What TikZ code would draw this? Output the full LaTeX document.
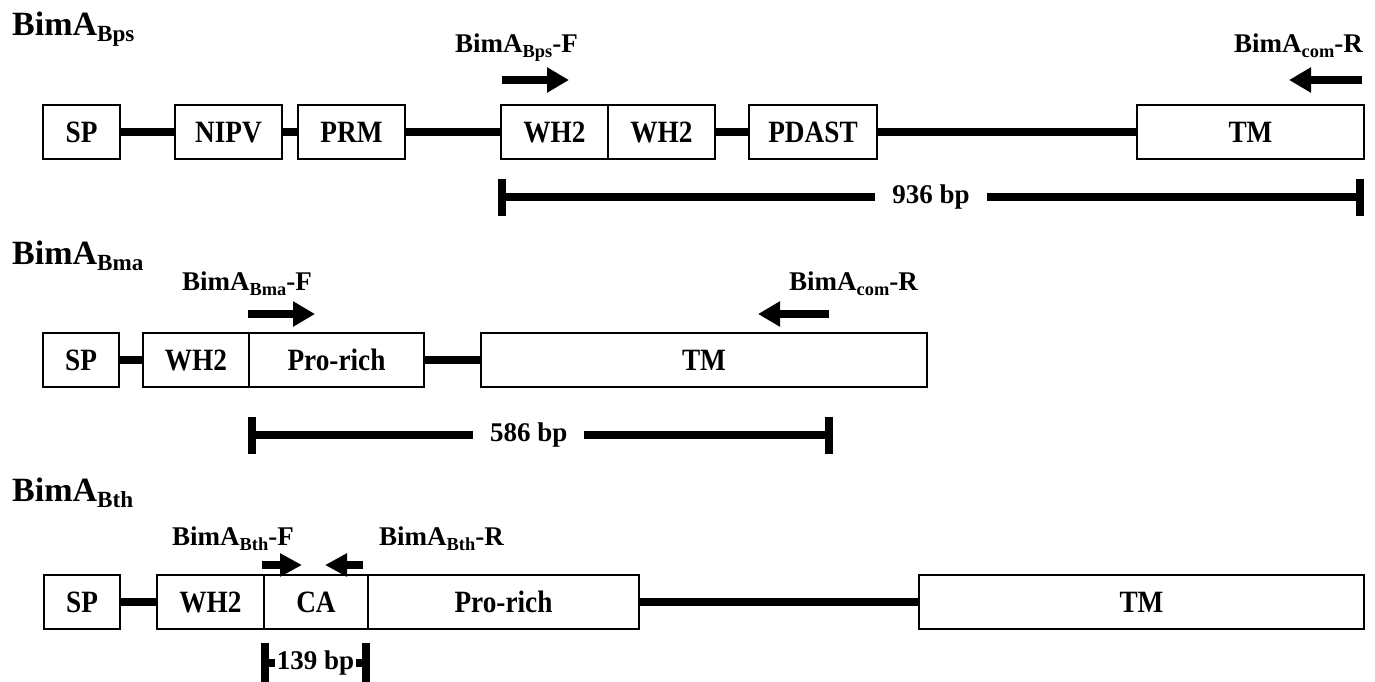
\documentclass[tikz,border=0pt]{standalone}
\usepackage{fontspec}
\setmainfont{Liberation Serif}
\newfontfamily\narrowfont{Liberation Serif}[FakeStretch=0.88]
\usepackage{graphicx}
\usepackage{tikz}
\usetikzlibrary{arrows.meta}
\newcommand{\sbs}[1]{\raisebox{-0.2em}{\scalebox{0.68}{#1}}}
\tikzset{
  dom/.style={draw, line width=2pt, anchor=west, minimum height=54, inner sep=0pt,
    text height=21pt, text depth=0pt, font=\narrowfont\fontsize{31}{33}\selectfont\bfseries},
  linker/.style={line width=8pt},
  primer/.style={line width=8pt, -{Triangle[width=24pt,length=22pt]}},
  plab/.style={inner sep=0pt, font=\fontsize{27}{30}\selectfont\bfseries},
  rowtitle/.style={inner sep=0pt, anchor=base west, font=\fontsize{34}{36}\selectfont\bfseries},
  sbar/.style={line width=8pt, {Bar[width=37pt]}-{Bar[width=37pt]}},
  blab/.style={fill=white, inner xsep=17pt, inner ysep=0pt, font=\fontsize{27}{30}\selectfont\bfseries},
}

\begin{document}
\begin{tikzpicture}[x=1pt,y=-1pt]
        \useasboundingbox (0,0) rectangle (1375,681);

        % BimA Bps
        \node[rowtitle] (t1) at (12,35) {BimA\sbs{Bps}};
        \node[dom, minimum width=77] (sp1) at (42,132) {SP};
        \node[dom, minimum width=107] (nipv1) at (174,132) {NIPV};
        \node[dom, minimum width=107] (prm1) at (297,132) {PRM};
        \node[dom, minimum width=107] (wha1) at (500,132) {WH2};
        \node[dom, minimum width=107] (whb1) at (607,132) {WH2};
        \node[dom, minimum width=128] (pdast1) at (748,132) {PDAST};
        \node[dom, minimum width=227] (tm1) at (1136,132) {TM};

        \draw[linker] (sp1.east) -- (nipv1.west);
        \draw[linker] (nipv1.east) -- (prm1.west);
        \draw[linker] (prm1.east) -- (wha1.west);
        \draw[linker] (whb1.east) -- (pdast1.west);
        \draw[linker] (pdast1.east) -- (tm1.west);

        \node[plab, anchor=base west] (lf1) at (455,52) {BimA\sbs{Bps}-F};
        \coordinate (f1a) at (502,80);
        \coordinate (f1b) at (569,80);
        \draw[primer] (f1a) -- (f1b);
        \node[plab, anchor=base east] (lr1) at (1363,52) {BimA\sbs{com}-R};
        \coordinate (r1a) at (1362,80);
        \coordinate (r1b) at (1289,80);
        \draw[primer] (r1a) -- (r1b);

        \coordinate (b1a) at (498,197);
        \coordinate (b1b) at (1364,197);
        \draw[sbar] (b1a) -- node[blab] (l936) {936 bp} (b1b);

        % BimA Bma
        \node[rowtitle] (t2) at (12,264) {BimA\sbs{Bma}};
        \node[dom, minimum width=76] (sp2) at (42,360) {SP};
        \node[dom, minimum width=106] (wh2) at (142,360) {WH2};
        \node[dom, minimum width=175] (pro2) at (248,360) {Pro-rich};
        \node[dom, minimum width=446] (tm2) at (480,360) {TM};

        \draw[linker] (sp2.east) -- (wh2.west);
        \draw[linker] (pro2.east) -- (tm2.west);

        \node[plab, anchor=base west] (lf2) at (182,290) {BimA\sbs{Bma}-F};
        \coordinate (f2a) at (248,314);
        \coordinate (f2b) at (315,314);
        \draw[primer] (f2a) -- (f2b);
        \node[plab, anchor=base east] (lr2) at (918,290) {BimA\sbs{com}-R};
        \coordinate (r2a) at (829,314);
        \coordinate (r2b) at (758,314);
        \draw[primer] (r2a) -- (r2b);

        \coordinate (b2a) at (248,435);
        \coordinate (b2b) at (833,435);
        \draw[sbar] (b2a) -- node[blab, pos=0.48] (l586) {586 bp} (b2b);

        % BimA Bth
        \node[rowtitle] (t3) at (12,501) {BimA\sbs{Bth}};
        \node[dom, minimum width=76] (sp3) at (43,602) {SP};
        \node[dom, minimum width=107] (wh3) at (156,602) {WH2};
        \node[dom, minimum width=104] (ca3) at (263,602) {CA};
        \node[dom, minimum width=271] (pro3) at (367,602) {Pro-rich};
        \node[dom, minimum width=445] (tm3) at (918,602) {TM};

        \draw[linker] (sp3.east) -- (wh3.west);
        \draw[linker] (pro3.east) -- (tm3.west);

        \node[plab, anchor=base west] (lf3) at (172,545) {BimA\sbs{Bth}-F};
        \coordinate (f3a) at (262,565);
        \coordinate (f3b) at (302,565);
        \draw[primer, -{Triangle[width=22pt,length=22pt]}] (f3a) -- (f3b);
        \node[plab, anchor=base west] (lr3) at (379,545) {BimA\sbs{Bth}-R};
        \coordinate (r3a) at (363,565);
        \coordinate (r3b) at (325,565);
        \draw[primer, -{Triangle[width=22pt,length=22pt]}] (r3a) -- (r3b);

        \coordinate (b3a) at (261,663);
        \coordinate (b3b) at (370,663);
        \draw[sbar, {Bar[width=40pt]}-{Bar[width=40pt]}] (b3a) -- node[blab, inner xsep=2pt] (l139) {139 bp} (b3b);
\end{tikzpicture}
\end{document}
